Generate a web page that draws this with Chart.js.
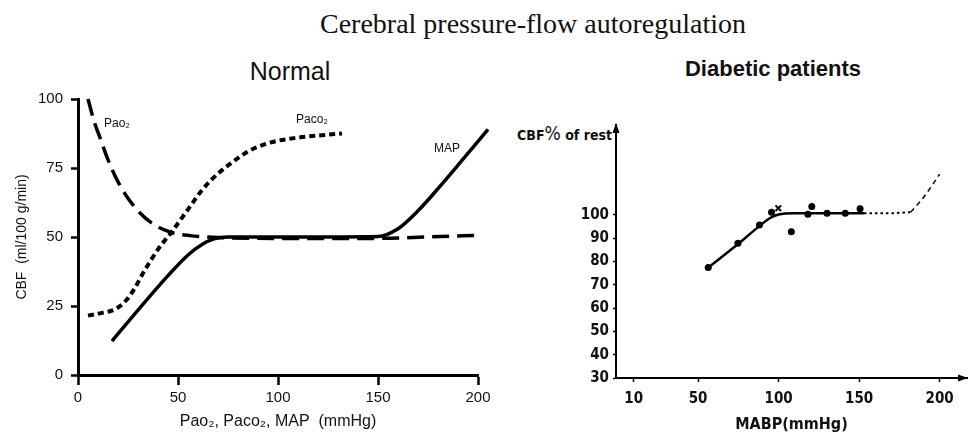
<!DOCTYPE html>
<html lang="en">
<head>
    <meta charset="UTF-8">
    <title>Cerebral pressure-flow autoregulation</title>
    <script src="https://cdn.jsdelivr.net/npm/chart.js"></script>
    <style>
        body {
            margin: 0;
            background: #fff;
            width: 973px;
            height: 434px;
            position: relative;
            overflow: hidden;
        }
        .label {
            position: absolute;
            white-space: nowrap;
            color: #111;
            transform: translateX(-50%);
        }
        #mainTitle {
            font-family: "Liberation Serif", "Times New Roman", serif;
            font-size: 28px;
            line-height: 28px;
            left: 533px;
            top: 10px;
        }
        #normalTitle {
            font-family: "Liberation Sans", Arial, sans-serif;
            font-size: 25px;
            line-height: 30px;
            left: 290px;
            top: 56px;
        }
        #diabTitle {
            font-family: "Liberation Sans", Arial, sans-serif;
            font-weight: bold;
            font-size: 22px;
            line-height: 26px;
            left: 773px;
            top: 56px;
        }
        #cbfRest {
            position: absolute;
            right: 361px;
            top: 122px;
            font-family: "Liberation Sans Narrow", "DejaVu Sans Condensed", Arial, sans-serif;
            font-weight: bold;
            font-size: 14px;
            line-height: 22px;
            color: #111;
            white-space: nowrap;
        }
        #cbfRest .pct { font-weight: normal; font-size: 19px; }
        canvas { position: absolute; top: 0; }
        #normalChart { left: 0; }
        #diabChart { left: 490px; }
    </style>
</head>
<body>
<div class="label" id="mainTitle">Cerebral pressure-flow autoregulation</div>
<div class="label" id="normalTitle">Normal</div>
<div class="label" id="diabTitle">Diabetic patients</div>
<div id="cbfRest">CBF<span class="pct">%</span> of rest</div>
<canvas id="normalChart" width="490" height="434"></canvas>
<canvas id="diabChart" width="483" height="434"></canvas>

<script>
    // ---- Normal: CBF vs Pao2 / Paco2 / MAP ----
    const pao2X = [5, 8, 11, 15, 19.5, 25, 31, 38, 46, 56, 70, 100, 150, 175, 200];
    const pao2Y = [100, 92, 86, 78, 70.7, 64, 58.7, 54.5, 51.8, 50.5, 49.8, 49.5, 49.5, 50, 50.6];

    const paco2X = [5, 12, 19, 24, 28, 33, 40, 47, 55, 62, 70, 77, 85, 95, 110, 132];
    const paco2Y = [21.5, 22.5, 24, 27, 31, 37.5, 45.5, 52, 60, 67, 73, 77, 81, 84, 86, 87.5];

    const mapX = [17, 30, 45, 55, 62, 68, 75, 100, 150, 160, 170, 180, 190, 205];
    const mapY = [12.3, 23.5, 36, 43.5, 47.3, 49.3, 50, 50, 50.2, 53, 59.5, 67.5, 76, 89];

    const normalCurveLabels = [
        { text: 'Pao\u2082', x: 19.5, y: 91 },
        { text: 'Paco\u2082', x: 117, y: 92.5 },
        { text: 'MAP', x: 184.5, y: 82 }
    ];

    // ---- Diabetic patients: CBF % of rest vs MABP ----
    const diabDotsX = [56.3, 74.7, 88.1, 95.6, 107.9, 118.2, 120.6, 130.1, 141.4, 150.6];
    const diabDotsY = [77.4, 87.8, 95.7, 101.2, 92.8, 100.3, 103.6, 100.7, 100.7, 102.6];
    const diabCrossX = [99.8];
    const diabCrossY = [102.9];

    const fitX = [56.3, 75, 88, 95, 100, 110, 153];
    const fitY = [77.4, 87.6, 95.2, 98.8, 100.2, 100.7, 100.7];
    const plateauX = [153, 168, 182];
    const plateauY = [100.7, 100.7, 101.2];
    const riseX = [182, 190, 200];
    const riseY = [101.2, 107.5, 117.5];

    const diabXTicks = [10, 50, 100, 150, 200];
    const diabYTicks = [30, 40, 50, 60, 70, 80, 90, 100];

    const pts = (xs, ys) => xs.map((x, i) => ({ x: x, y: ys[i] }));

    const sansFont = '"Liberation Sans", Arial, sans-serif';
    const narrowFont = '"Liberation Sans Narrow", "DejaVu Sans Condensed", Arial, sans-serif';

    function lineSet(data, dash, width) {
        return {
            data: data,
            borderColor: '#000',
            borderWidth: width,
            borderDash: dash,
            pointRadius: 0,
            fill: false,
            cubicInterpolationMode: 'monotone',
            clip: 14
        };
    }

    const curveLabelPlugin = {
        id: 'curveLabels',
        afterDatasetsDraw(chart) {
            const c = chart.ctx;
            c.save();
            c.font = '12px ' + sansFont;
            c.fillStyle = '#111';
            c.textAlign = 'center';
            c.textBaseline = 'middle';
            normalCurveLabels.forEach(l => {
                c.fillText(l.text, chart.scales.x.getPixelForValue(l.x), chart.scales.y.getPixelForValue(l.y));
            });
            c.restore();
        }
    };

    new Chart(document.getElementById('normalChart'), {
        type: 'line',
        data: {
            datasets: [
                lineSet(pts(pao2X, pao2Y), [17, 8], 3.5),
                lineSet(pts(paco2X, paco2Y), [6, 4], 4),
                lineSet(pts(mapX, mapY), [], 3.5)
            ]
        },
        options: {
            responsive: false,
            animation: false,
            layout: { padding: { top: 99, right: 12, left: 0, bottom: 0 } },
            plugins: { legend: { display: false }, tooltip: { enabled: false } },
            scales: {
                x: {
                    type: 'linear',
                    min: 0, max: 200,
                    ticks: { stepSize: 50, color: '#111', padding: 4, font: { size: 15, family: sansFont } },
                    grid: { drawOnChartArea: false, color: '#000', tickLength: 10, tickWidth: 2.5 },
                    border: { color: '#000', width: 3 },
                    title: {
                        display: true,
                        text: 'Pao\u2082, Paco\u2082, MAP  (mmHg)',
                        color: '#111',
                        font: { size: 16, family: sansFont },
                        padding: { top: 0, bottom: 3 }
                    },
                    afterFit(s) { s.height = 59; s.paddingLeft = 0; s.paddingRight = 0; }
                },
                y: {
                    min: 0, max: 100,
                    ticks: { stepSize: 25, color: '#111', padding: 8, font: { size: 15, family: sansFont } },
                    grid: { drawOnChartArea: false, color: '#000', tickLength: 7, tickWidth: 2.5 },
                    border: { color: '#000', width: 3 },
                    title: {
                        display: true,
                        text: 'CBF  (ml/100 g/min)',
                        color: '#111',
                        font: { size: 14, family: sansFont },
                        padding: { top: 14, bottom: 0 }
                    },
                    afterFit(s) { s.width = 78; s.paddingTop = 0; s.paddingBottom = 0; }
                }
            }
        },
        plugins: [curveLabelPlugin]
    });

    const arrowPlugin = {
        id: 'axisArrows',
        afterDraw(chart) {
            const a = chart.chartArea;
            const c = chart.ctx;
            c.save();
            c.fillStyle = '#000';
            c.beginPath();
            c.moveTo(a.left, a.top - 2);
            c.lineTo(a.left - 3.5, a.top + 8);
            c.lineTo(a.left + 3.5, a.top + 8);
            c.closePath();
            c.fill();
            c.beginPath();
            c.moveTo(a.right + 1, a.bottom);
            c.lineTo(a.right - 9, a.bottom - 3.5);
            c.lineTo(a.right - 9, a.bottom + 3.5);
            c.closePath();
            c.fill();
            c.restore();
        }
    };

    new Chart(document.getElementById('diabChart'), {
        type: 'line',
        data: {
            datasets: [
                lineSet(pts(fitX, fitY), [], 2.5),
                lineSet(pts(plateauX, plateauY), [2.5, 3], 2),
                lineSet(pts(riseX, riseY), [5, 4], 1.5),
                {
                    data: pts(diabDotsX, diabDotsY),
                    showLine: false,
                    pointRadius: 3.5,
                    pointBackgroundColor: '#000',
                    pointBorderColor: '#000',
                    pointBorderWidth: 0
                },
                {
                    data: pts(diabCrossX, diabCrossY),
                    showLine: false,
                    pointStyle: 'crossRot',
                    pointRadius: 4,
                    pointBorderColor: '#000',
                    pointBorderWidth: 2
                }
            ]
        },
        options: {
            responsive: false,
            animation: false,
            layout: { padding: { top: 125, right: 1, left: 0, bottom: 0 } },
            plugins: { legend: { display: false }, tooltip: { enabled: false } },
            scales: {
                x: {
                    type: 'linear',
                    min: -1, max: 217,
                    afterBuildTicks(s) { s.ticks = diabXTicks.map(v => ({ value: v })); },
                    ticks: { color: '#111', padding: 8, font: { size: 15, weight: 'bold', family: narrowFont } },
                    grid: { drawOnChartArea: false, color: '#000', tickLength: 4, tickWidth: 1.5 },
                    border: { color: '#000', width: 2 },
                    title: {
                        display: true,
                        text: 'MABP(mmHg)',
                        color: '#111',
                        font: { size: 16, weight: 'bold', family: narrowFont },
                        padding: { top: 0, bottom: 0 }
                    },
                    afterFit(s) { s.height = 56; s.paddingLeft = 0; s.paddingRight = 0; }
                },
                y: {
                    min: 30, max: 138.6,
                    afterBuildTicks(s) { s.ticks = diabYTicks.map(v => ({ value: v })); },
                    ticks: { color: '#111', padding: 4, font: { size: 15, weight: 'bold', family: narrowFont } },
                    grid: { drawOnChartArea: false, color: '#000', tickLength: 3, tickWidth: 1.5 },
                    border: { color: '#000', width: 2 },
                    afterFit(s) { s.width = 126; s.paddingTop = 0; s.paddingBottom = 0; }
                }
            }
        },
        plugins: [arrowPlugin]
    });
</script>
</body>
</html>
